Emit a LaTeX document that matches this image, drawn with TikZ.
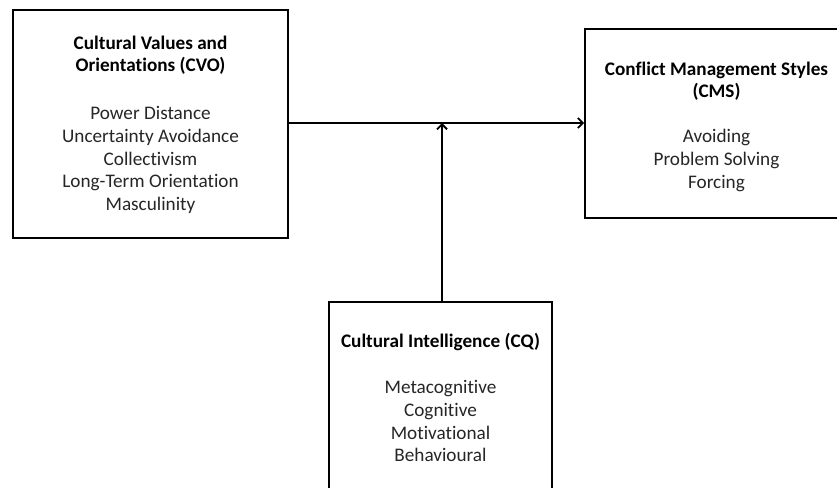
\documentclass[tikz,border=0pt]{standalone}
\usepackage{fontspec}
\setmainfont[Ligatures={NoCommon}]{Carlito}
\usetikzlibrary{arrows.meta}
\newcommand{\hd}[1]{\textcolor{black}{\textbf{#1}}}
\begin{document}
\begin{tikzpicture}[x=1pt,y=-1pt,
  box/.style={draw=black,line width=1.8pt,fill=white,inner sep=0pt},
  txt/.style={align=center,inner sep=0pt,text=black!85,font=\fontsize{19.2}{22.6}\selectfont},
  arr/.style={line width=1.8pt,-{Straight Barb[length=5pt,width=10pt,line width=1.8pt]}}]
\useasboundingbox (0,0) rectangle (837,487);
\clip (0,0) rectangle (837,487);
\fill[white] (0,0) rectangle (837,487);
\node[box,minimum width=275pt,minimum height=228pt] (cvo) at (150.5,124) {};
\node[box,minimum width=263pt,minimum height=189pt] (cms) at (716.5,123.5) {};
\node[box,minimum width=223pt,minimum height=192pt] (cq) at (440.5,398) {};
\node[txt] (cvot) at (150.5,124.5) {\hd{Cultural Values and}\\\hd{Orientations (CVO)}\\[25.5pt]Power Distance\\Uncertainty Avoidance\\Collectivism\\Long-Term Orientation\\Masculinity};
\node[txt] (cmst) at (716.5,126.5) {\hd{Conflict Management Styles}\\\hd{(CMS)}\\[22.5pt]Avoiding\\Problem Solving\\Forcing};
\node[txt] (cqt) at (440.5,397.5) {\hd{Cultural Intelligence (CQ)}\\[24pt]Metacognitive\\Cognitive\\Motivational\\Behavioural};
\coordinate (j) at (442,123);
\draw[arr] (cvo.east |- j) -- (cms.west |- j);
\draw[arr] (cq.north -| j) -- (j);
\end{tikzpicture}
\end{document}
